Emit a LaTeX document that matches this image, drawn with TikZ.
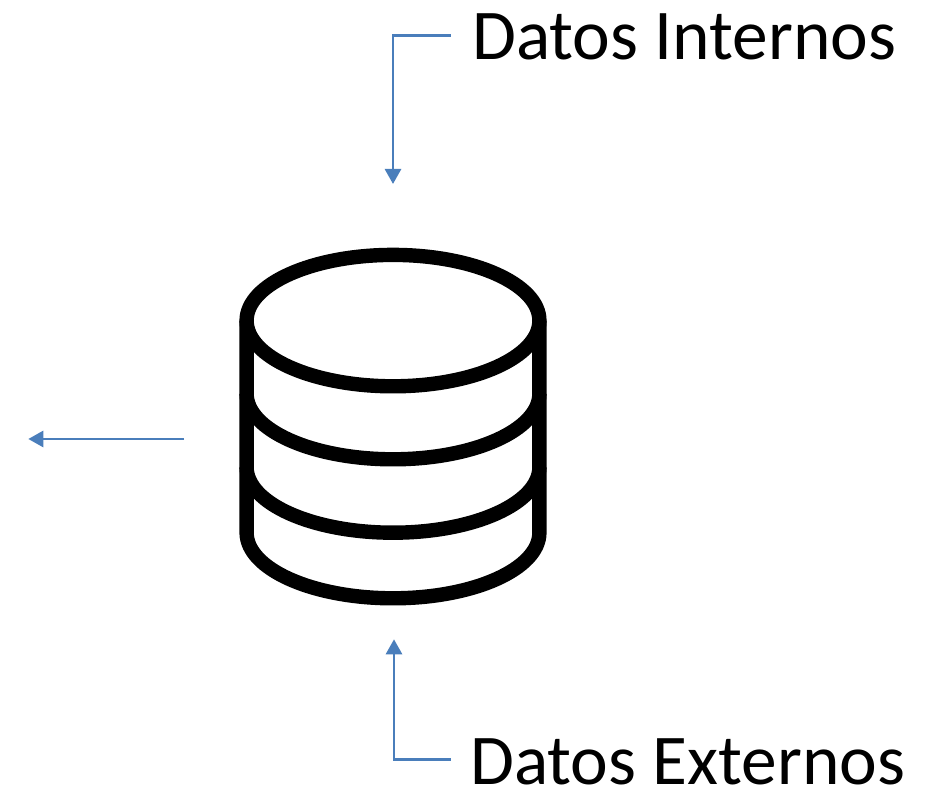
\documentclass[tikz,border=0pt]{standalone}
\usepackage{fontspec}
\setmainfont{Carlito}
\usetikzlibrary{arrows.meta}
\definecolor{flow}{HTML}{4A7EBB}
\tikzset{
  flowline/.style={draw=flow,line width=2.8pt,line join=miter,-{Triangle[length=15pt,width=16pt]}},
  dbline/.style={draw=black,line width=14.4pt,line join=round},
  lbl/.style={anchor=base west,inner sep=0pt,font=\fontsize{71.4}{71.4}\selectfont}
}
\begin{document}
\begin{tikzpicture}[x=1pt,y=1pt]
\useasboundingbox (0,0) rectangle (930,793);
% database cylinder
\draw[dbline] (393,472.4) ellipse [x radius=146.4pt,y radius=65.7pt];
\draw[dbline] (246.6,472.4) -- (246.6,260.4) arc[start angle=180,end angle=360,x radius=146.4pt,y radius=65.7pt] -- (539.4,472.4);
\draw[dbline] (246.6,399.4) arc[start angle=180,end angle=360,x radius=146.4pt,y radius=65.7pt];
\draw[dbline] (246.6,326) arc[start angle=180,end angle=360,x radius=146.4pt,y radius=65.7pt];
% labels
\node[lbl] (internos) at (472,733) {Datos Internos};
\node[lbl] (externos) at (470,8) {Datos Externos};
% connector ends
\coordinate (inStart) at (450.6,757.3);
\coordinate (inTip) at (393,609);
\coordinate (exStart) at (450.6,33.7);
\coordinate (exTip) at (394,153.7);
\coordinate (outStart) at (184,354);
\coordinate (outTip) at (28.3,354);
% connectors
\draw[flowline] (inStart) -| (inTip);
\draw[flowline] (exStart) -| (exTip);
\draw[flowline] (outStart) -- (outTip);
\end{tikzpicture}
\end{document}
